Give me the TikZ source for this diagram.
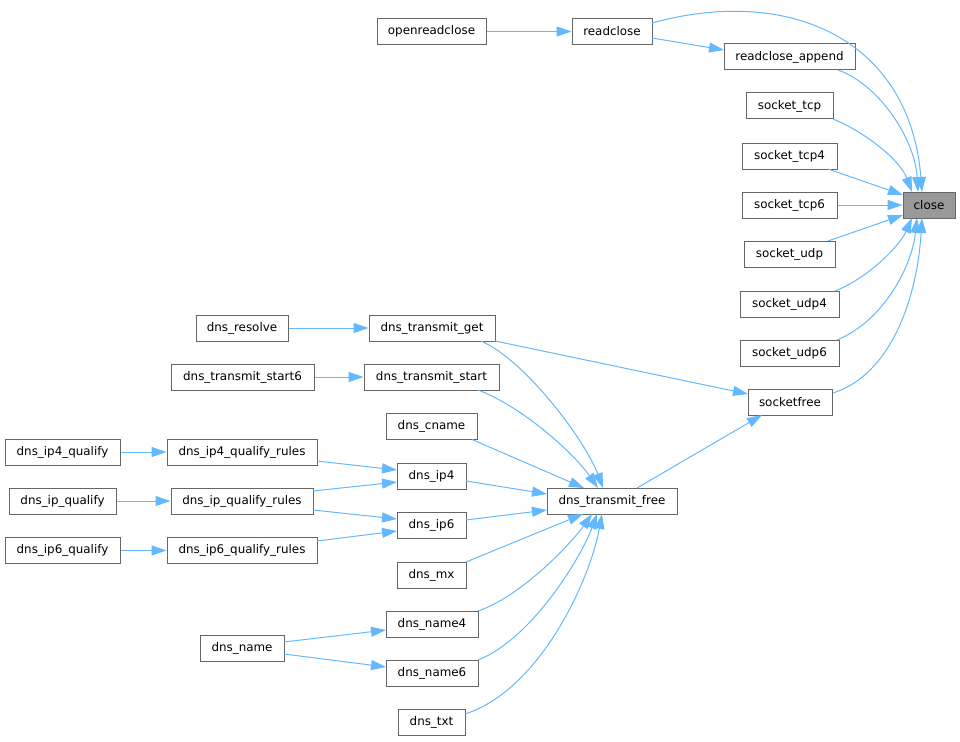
\documentclass[tikz,border=0pt]{standalone}
\usepackage{fontspec}
\setmainfont{DejaVu Sans}
\usetikzlibrary{arrows.meta,calc}
\definecolor{edgec}{HTML}{63B8FF}
\definecolor{boxc}{HTML}{666666}
\definecolor{closec}{HTML}{999999}
\tikzset{
  fn/.style={draw=boxc, line width=1pt, fill=white, minimum height=26, inner sep=0pt, font=\fontsize{11.9}{13}\selectfont, text=black},
  hl/.style={fn, fill=closec},
  call/.style={draw=edgec, line width=1pt, -{Triangle[length=15pt,width=10pt]}}
}
\begin{document}
\begin{tikzpicture}[x=1pt,y=-1pt]
\useasboundingbox (0,0) rectangle (960,741);
% nodes
\node[fn, minimum width=109] (openreadclose) at (431.5,31.5) {openreadclose};
\node[fn, minimum width=80] (readclose) at (612,31.5) {readclose};
\node[fn, minimum width=131] (readcloseappend) at (789.5,57) {readclose\_append};
\node[fn, minimum width=87] (sockettcp) at (789.5,106) {socket\_tcp};
\node[fn, minimum width=95] (sockettcpf) at (789.5,156) {socket\_tcp4};
\node[fn, minimum width=95] (sockettcps) at (789.5,205) {socket\_tcp6};
\node[hl, minimum width=52] (close) at (929,205) {close};
\node[fn, minimum width=91] (socketudp) at (789.5,254) {socket\_udp};
\node[fn, minimum width=99] (socketudpf) at (789.5,304) {socket\_udp4};
\node[fn, minimum width=99] (socketudps) at (789.5,353) {socket\_udp6};
\node[fn, minimum width=84] (socketfree) at (790,402) {socketfree};
\node[fn, minimum width=92] (dnsresolve) at (242,328) {dns\_resolve};
\node[fn, minimum width=126] (dnstget) at (432,328) {dns\_transmit\_get};
\node[fn, minimum width=143] (dnststartsix) at (242.5,377) {dns\_transmit\_start6};
\node[fn, minimum width=135] (dnststart) at (431.5,377) {dns\_transmit\_start};
\node[fn, minimum width=91] (dnscname) at (431.5,426.5) {dns\_cname};
\node[fn, minimum width=115] (ipfq) at (62.5,452) {dns\_ip4\_qualify};
\node[fn, minimum width=150] (ipfqr) at (242,452) {dns\_ip4\_qualify\_rules};
\node[fn, minimum width=69] (dnsipf) at (431.5,476) {dns\_ip4};
\node[fn, minimum width=107] (ipq) at (62.5,501) {dns\_ip\_qualify};
\node[fn, minimum width=142] (ipqr) at (242,501) {dns\_ip\_qualify\_rules};
\node[fn, minimum width=130] (dnstfree) at (612,501) {dns\_transmit\_free};
\node[fn, minimum width=115] (ipsq) at (62.5,550.5) {dns\_ip6\_qualify};
\node[fn, minimum width=150] (ipsqr) at (242,550.5) {dns\_ip6\_qualify\_rules};
\node[fn, minimum width=69] (dnsips) at (431.5,525) {dns\_ip6};
\node[fn, minimum width=69] (dnsmx) at (431.5,575) {dns\_mx};
\node[fn, minimum width=92] (dnsnamef) at (432,624) {dns\_name4};
\node[fn, minimum width=84] (dnsname) at (242,648) {dns\_name};
\node[fn, minimum width=92] (dnsnames) at (432,673) {dns\_name6};
\node[fn, minimum width=67] (dnstxt) at (431.5,722) {dns\_txt};
% edges into close
\draw[call] ($(readclose.center)+(40,-8.5)$) .. controls +(138,-38) and +(-12,-152) .. ($(close.center)+(-7,-13)$);
\draw[call] ($(readcloseappend.center)+(48.5,13)$) .. controls +(42,15) and +(-3,-52) .. ($(close.center)+(-11,-13)$);
\draw[call] ($(sockettcp.center)+(43.5,13)$) .. controls +(32,13) and +(-12,-32) .. ($(close.center)+(-17,-13)$);
\draw[call] ($(sockettcpf.center)+(38.5,13)$) -- ($(close.center)+(-26,-10)$);
\draw[call] (sockettcps.east) -- (close.west);
\draw[call] ($(socketudp.center)+(38.5,-13)$) -- ($(close.center)+(-26,10)$);
\draw[call] ($(socketudpf.center)+(45.5,-13)$) .. controls +(35,-14) and +(-12,27) .. ($(close.center)+(-17,13)$);
\draw[call] ($(socketudps.center)+(47.5,-13)$) .. controls +(48,-20) and +(-5,47) .. ($(close.center)+(-12,13)$);
\draw[call] ($(socketfree.center)+(43,-9)$) .. controls +(57,-18) and +(-5,82) .. ($(close.center)+(-7,13)$);
% readclose
\draw[call] (openreadclose.east) -- (readclose.west);
\draw[call] ($(readclose.center)+(40,6.5)$) -- ($(readcloseappend.center)+(-65.5,-7)$);
% socketfree
\draw[call] ($(dnstget.center)+(63,13)$) -- ($(socketfree.center)+(-42,-8)$);
\draw[call] ($(dnstfree.center)+(25,-13)$) -- ($(socketfree.center)+(-28,13)$);
% into dns_transmit_free
\draw[call] ($(dnstget.center)+(49,13)$) .. controls +(44,19) and +(-18,-48) .. ($(dnstfree.center)+(-9,-13)$);
\draw[call] ($(dnststart.center)+(46.5,13)$) .. controls +(47,18) and +(-23,-33) .. ($(dnstfree.center)+(-14,-13)$);
\draw[call] ($(dnscname.center)+(40.5,13)$) -- ($(dnstfree.center)+(-28,-13)$);
\draw[call] ($(dnsipf.center)+(34.5,5)$) -- ($(dnstfree.center)+(-65,-7)$);
\draw[call] ($(dnsips.center)+(34.5,-5)$) -- ($(dnstfree.center)+(-65,9)$);
\draw[call] ($(dnsmx.center)+(34.5,-13)$) -- ($(dnstfree.center)+(-29,13)$);
\draw[call] ($(dnsnamef.center)+(46,-13)$) .. controls +(42,-14) and +(-22,31) .. ($(dnstfree.center)+(-20,13)$);
\draw[call] ($(dnsnames.center)+(46,-13)$) .. controls +(52,-20) and +(-17,46) .. ($(dnstfree.center)+(-15,13)$);
\draw[call] ($(dnstxt.center)+(33.5,-8)$) .. controls +(75,-24) and +(-12,66) .. ($(dnstfree.center)+(-10,13)$);
% left side
\draw[call] (dnsresolve.east) -- (dnstget.west);
\draw[call] (dnststartsix.east) -- (dnststart.west);
\draw[call] (ipfq.east) -- (ipfqr.west);
\draw[call] (ipq.east) -- (ipqr.west);
\draw[call] (ipsq.east) -- (ipsqr.west);
\draw[call] ($(ipfqr.center)+(75,9)$) -- ($(dnsipf.center)+(-34.5,-6)$);
\draw[call] ($(ipqr.center)+(71,-10)$) -- ($(dnsipf.center)+(-34.5,6)$);
\draw[call] ($(ipqr.center)+(71,9)$) -- ($(dnsips.center)+(-34.5,-6)$);
\draw[call] ($(ipsqr.center)+(75,-9.5)$) -- ($(dnsips.center)+(-34.5,6)$);
\draw[call] ($(dnsname.center)+(42,-6)$) -- ($(dnsnamef.center)+(-46,6)$);
\draw[call] ($(dnsname.center)+(42,6)$) -- ($(dnsnames.center)+(-46,-6)$);
\end{tikzpicture}
\end{document}
